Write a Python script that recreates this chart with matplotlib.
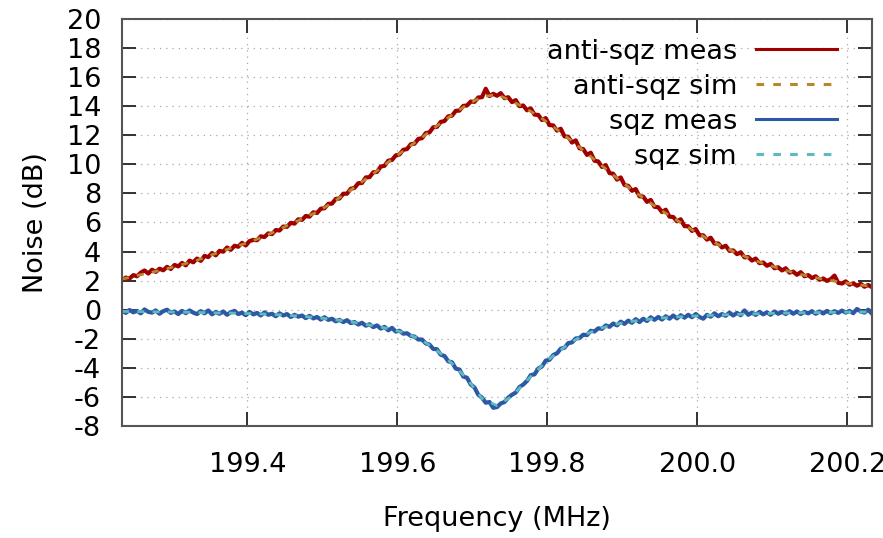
import numpy as np
import matplotlib
matplotlib.use('Agg')
import matplotlib.pyplot as plt

# measured traces, 0.005 MHz step from 199.233 MHz
freq_meas = np.linspace(199.233, 200.233, 201)
anti_meas = [
    2.02, 2.21, 2.14, 2.38, 2.30, 2.55, 2.70, 2.49,
    2.75, 2.60, 2.82, 2.71, 2.95, 2.80, 3.08, 2.98,
    3.22, 3.05, 3.38, 3.26, 3.52, 3.36, 3.70, 3.62,
    3.90, 3.74, 4.05, 3.99, 4.28, 4.12, 4.40, 4.33,
    4.60, 4.42, 4.72, 4.80, 4.78, 5.05, 5.00, 5.25,
    5.20, 5.48, 5.45, 5.72, 5.70, 5.98, 5.92, 6.22,
    6.18, 6.45, 6.40, 6.70, 6.65, 6.95, 6.98, 7.28,
    7.30, 7.62, 7.65, 7.98, 7.98, 8.32, 8.38, 8.70,
    8.72, 9.10, 9.12, 9.45, 9.48, 9.85, 9.90, 10.25,
    10.30, 10.62, 10.68, 11.00, 11.05, 11.38, 11.42, 11.75,
    11.80, 12.15, 12.20, 12.55, 12.58, 12.92, 12.98, 13.30,
    13.35, 13.68, 13.70, 14.02, 14.05, 14.32, 14.30, 14.60,
    14.62, 15.20, 14.70, 14.85, 14.72, 14.90, 14.55, 14.62,
    14.28, 14.42, 14.00, 14.05, 13.72, 13.85, 13.42, 13.40,
    13.05, 13.18, 12.70, 12.68, 12.32, 12.45, 11.92, 11.90,
    11.50, 11.65, 11.10, 11.05, 10.65, 10.80, 10.25, 10.20,
    9.82, 9.95, 9.40, 9.35, 8.95, 9.10, 8.58, 8.52,
    8.18, 8.30, 7.80, 7.78, 7.42, 7.55, 7.08, 7.05,
    6.72, 6.88, 6.40, 6.38, 6.08, 6.22, 5.75, 5.74,
    5.42, 5.55, 5.12, 5.12, 4.82, 4.95, 4.55, 4.56,
    4.28, 4.40, 4.05, 4.08, 3.82, 3.95, 3.60, 3.62,
    3.38, 3.52, 3.20, 3.25, 3.02, 3.15, 2.85, 2.92,
    2.70, 2.85, 2.55, 2.62, 2.40, 2.58, 2.30, 2.38,
    2.18, 2.30, 2.06, 2.15, 1.98, 2.10, 2.35, 1.85,
    1.80, 1.95, 1.72, 1.82, 1.65, 1.78, 1.58, 1.70,
    1.55,
]
sqz_meas = [
    -0.05, -0.22, -0.02, -0.18, -0.08, -0.25, 0.02, -0.15,
    -0.20, -0.05, -0.28, -0.10, 0.00, -0.22, -0.12, -0.30,
    -0.08, -0.24, -0.05, -0.20, -0.30, -0.10, -0.25, -0.05,
    -0.32, -0.15, -0.28, -0.12, -0.35, -0.18, -0.08, -0.30,
    -0.20, -0.38, -0.15, -0.32, -0.22, -0.40, -0.18, -0.35,
    -0.28, -0.45, -0.25, -0.40, -0.30, -0.50, -0.35, -0.48,
    -0.40, -0.58, -0.42, -0.60, -0.50, -0.68, -0.52, -0.70,
    -0.62, -0.80, -0.70, -0.85, -0.72, -0.92, -0.85, -1.02,
    -0.90, -1.10, -1.00, -1.20, -1.08, -1.30, -1.18, -1.42,
    -1.25, -1.50, -1.45, -1.65, -1.62, -1.80, -1.85, -2.05,
    -2.05, -2.32, -2.40, -2.70, -2.72, -3.10, -3.18, -3.55,
    -3.62, -4.05, -4.12, -4.60, -4.68, -5.15, -5.35, -5.85,
    -6.05, -6.40, -6.35, -6.75, -6.70, -6.45, -6.35, -6.05,
    -5.85, -5.70, -5.32, -5.15, -4.90, -4.50, -4.45, -4.05,
    -3.90, -3.50, -3.45, -3.12, -3.00, -2.68, -2.62, -2.30,
    -2.25, -1.98, -1.95, -1.72, -1.75, -1.45, -1.50, -1.28,
    -1.32, -1.08, -1.18, -0.95, -1.08, -0.82, -0.98, -0.75,
    -0.90, -0.65, -0.85, -0.62, -0.78, -0.52, -0.70, -0.50,
    -0.68, -0.45, -0.62, -0.40, -0.60, -0.38, -0.55, -0.35,
    -0.52, -0.30, -0.50, -0.62, -0.35, -0.48, -0.25, -0.45,
    -0.30, -0.42, -0.20, -0.40, -0.22, -0.38, -0.05, -0.35,
    -0.20, -0.36, -0.15, -0.32, -0.18, -0.35, -0.12, -0.28,
    -0.15, -0.30, -0.10, -0.28, -0.12, -0.30, -0.15, -0.25,
    -0.10, -0.28, -0.12, -0.26, -0.08, -0.24, -0.10, -0.22,
    -0.06, -0.20, -0.08, -0.24, 0.05, -0.12, -0.20, 0.00,
    -0.28,
]

# simulated curves, 0.02 MHz step
freq_sim = np.linspace(199.233, 200.233, 51)
anti_sim = [
    2.10, 2.35, 2.58, 2.82, 3.10, 3.40, 3.78, 4.15, 4.48, 4.85,
    5.28, 5.78, 6.25, 6.72, 7.35, 8.05, 8.80, 9.55, 10.35, 11.10,
    11.85, 12.65, 13.40, 14.10, 14.65, 14.80, 14.35, 13.80, 13.15, 12.40,
    11.60, 10.75, 9.90, 9.05, 8.25, 7.50, 6.80, 6.15, 5.50, 4.90,
    4.35, 3.90, 3.45, 3.10, 2.78, 2.48, 2.25, 2.05, 1.88, 1.73,
    1.60,
]
sqz_sim = [
    -0.12, -0.13, -0.14, -0.16, -0.17, -0.19, -0.21, -0.23, -0.25, -0.28,
    -0.32, -0.38, -0.45, -0.55, -0.66, -0.80, -0.96, -1.15, -1.35, -1.65,
    -2.10, -2.80, -3.70, -4.75, -6.10, -6.60, -5.95, -4.85, -3.85, -2.95,
    -2.20, -1.65, -1.25, -0.98, -0.80, -0.67, -0.57, -0.50, -0.44, -0.40,
    -0.36, -0.32, -0.29, -0.26, -0.24, -0.22, -0.20, -0.19, -0.17, -0.16,
    -0.15,
]

xticks = [199.4, 199.6, 199.8, 200.0, 200.2]
yticks = list(range(-8, 21, 2))

plt.rcParams['font.family'] = ['DejaVu Sans']
plt.rcParams['axes.unicode_minus'] = False
fs = 19.5

fig = plt.figure(figsize=(8.83, 5.38), dpi=100)
ax = fig.add_axes([0.1382, 0.2082, 0.8493, 0.7565])

ax.plot(freq_meas, anti_meas, color='#a00000', lw=3.0, label='anti-sqz meas')
ax.plot(freq_sim, anti_sim, color='#b8862b', lw=2.0, dashes=(2.5, 3), label='anti-sqz sim')
ax.plot(freq_meas, sqz_meas, color='#2d58a6', lw=3.0, label='sqz meas')
ax.plot(freq_sim, sqz_sim, color='#5bbcbc', lw=2.0, dashes=(2.5, 3), label='sqz sim')

ax.set_xlim(199.233, 200.233)
ax.set_ylim(-8, 20)
ax.set_xticks(xticks)
ax.set_xticklabels(['%.1f' % t for t in xticks])
ax.set_yticks(yticks)
ax.grid(True, color='#a8a8a8', lw=0.9, linestyle=(0, (1, 4)))
ax.tick_params(direction='in', length=10, width=1.3, color='#222222',
               top=True, right=True, labelsize=fs)
ax.tick_params(axis='x', pad=19)
ax.tick_params(axis='y', pad=15)
for s in ax.spines.values():
    s.set_color('#555555')
    s.set_linewidth(1.5)

ax.set_xlabel('Frequency (MHz)', fontsize=fs, labelpad=20)
ax.set_ylabel('Noise (dB)', fontsize=fs, labelpad=13)

leg = ax.legend(loc='upper right', bbox_to_anchor=(0.968, 0.978), fontsize=fs,
                frameon=False, markerfirst=False, handlelength=3.0,
                handletextpad=0.7, labelspacing=0.33, borderaxespad=0)
for line in leg.get_lines():
    line.set_linewidth(2.2)

fig.savefig('out.png', dpi=100)
